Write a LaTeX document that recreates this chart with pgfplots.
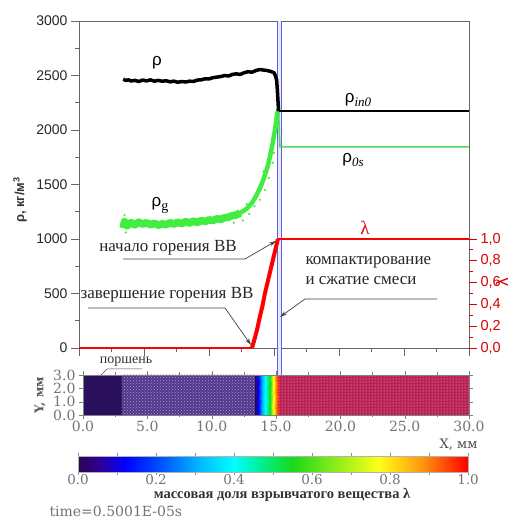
\documentclass[border=0pt]{standalone}
\usepackage{pgfplots}
\pgfplotsset{compat=1.18}
\usepackage{fontspec}
\setmainfont{Liberation Serif}
\newfontfamily\sansf{Liberation Sans}
\newfontfamily\dvs{DejaVu Serif}
\usetikzlibrary{patterns,arrows.meta}
\definecolor{vline}{rgb}{0.38,0.38,0.88}
\definecolor{rhog}{rgb}{0.25,0.93,0.25}
\definecolor{rho0s}{rgb}{0.3,0.85,0.4}
\definecolor{piston}{rgb}{0.16,0.06,0.36}
\definecolor{gran}{rgb}{0.32,0.21,0.54}
\definecolor{granDot}{rgb}{0.66,0.60,0.86}
\definecolor{redreg}{rgb}{0.72,0.13,0.33}
\definecolor{redDot}{rgb}{1,0.78,0.86}
\pgfplotsset{
 colormap={expl}{rgb(0pt)=(0.17,0.02,0.30) rgb(6pt)=(0.18,0.0,0.62) rgb(12pt)=(0,0,1) rgb(22pt)=(0,0.35,1) rgb(31pt)=(0,0.72,1) rgb(40pt)=(0,1,1) rgb(48pt)=(0,0.93,0.5) rgb(55pt)=(0.1,0.85,0.1) rgb(66pt)=(0.55,0.93,0.1) rgb(77pt)=(1,1,0.1) rgb(88pt)=(1,0.6,0.05) rgb(100pt)=(1,0,0)}
}
\begin{document}
\begin{tikzpicture}
% ---------- main axis (rho) ----------
\begin{axis}[at={(79pt,178pt)}, anchor=south west, scale only axis,
  width=390pt, height=327pt,
  xmin=0, xmax=30, ymin=0, ymax=3000,
  xtick={0,5,...,30}, xticklabels={}, minor x tick num=1,
  ytick={0,500,...,3000}, minor y tick num=1,
  tick pos=left, tick align=outside,
  major tick length=8pt, minor tick length=4pt,
  axis line style={black!60, line width=0.8pt},
  tick style={black!60, line width=0.8pt},
  yticklabel style={font=\sansf\fontsize{14}{14}\selectfont, color=black!85},
  /pgf/number format/assume math mode=true,
  /pgf/number format/1000 sep={},
  clip=false]
% vertical double line
\addplot[draw=none, fill=vline!15] coordinates {(15.25,-250)(15.25,3000)(15.6,3000)(15.6,-250)} -- cycle;
\addplot[vline, line width=1pt] coordinates {(15.25,-250)(15.25,3000)};
\addplot[vline, line width=1pt] coordinates {(15.6,-250)(15.6,3000)};
% rho_g (green)
\addplot[rhog, line width=7.5pt, line join=round] coordinates {
(3.4,1100)(3.5,1160)(3.7,1120)(4.0,1150)(4.3,1130)(4.6,1155)(4.9,1135)(5.2,1150)
(5.5,1130)(5.8,1145)(6.1,1125)(6.4,1140)(6.7,1130)(7.0,1150)(7.3,1135)(7.6,1155)
(7.9,1140)(8.2,1160)(8.5,1145)(8.8,1165)(9.1,1150)(9.4,1170)(9.7,1160)(10.0,1175)
(10.3,1170)(10.6,1185)(10.9,1180)(11.2,1195)(11.5,1200)(11.8,1215)(12.1,1220)(12.4,1240)};
\addplot[rhog, line width=4.5pt, line join=round] coordinates {
(12.4,1240)(12.7,1260)(13.0,1290)(13.3,1330)(13.6,1390)(13.9,1460)(14.2,1550)(14.5,1660)
(14.7,1760)(14.9,1880)(15.1,2020)(15.25,2150)(15.35,2190)};
\addplot[rhog, only marks, mark=*, mark size=0.9pt] coordinates {
(12.6,1170)(13.1,1230)(13.5,1300)(13.9,1360)(14.3,1450)(14.6,1560)(14.9,1700)(15.0,1790)
(13.8,1420)(14.2,1620)(12.9,1320)(11.9,1150)(3.6,1060)(3.5,1220)};
\addplot[rho0s, line width=1.6pt] coordinates {(15.35,2180)(15.45,1845)(30,1845)};
% rho (black)
\addplot[black, line width=3.5pt, line join=round] coordinates {
(3.4,2465)(3.6,2455)(3.8,2460)(4.0,2450)(4.3,2455)(4.6,2445)(4.9,2458)(5.2,2450)
(5.5,2460)(5.8,2448)(6.1,2455)(6.4,2447)(6.7,2452)(7.0,2442)(7.3,2448)(7.6,2438)
(7.9,2445)(8.2,2440)(8.5,2448)(8.8,2445)(9.1,2458)(9.4,2460)(9.7,2470)(10.0,2468)
(10.3,2480)(10.6,2485)(10.9,2490)(11.2,2500)(11.5,2495)(11.8,2510)(12.1,2515)(12.4,2510)
(12.7,2525)(13.0,2535)(13.3,2530)(13.6,2545)(13.9,2555)(14.2,2550)(14.5,2545)(14.8,2535)
(15.0,2525)(15.1,2500)(15.2,2460)(15.25,2380)(15.3,2280)(15.35,2172)};
\addplot[black, line width=1.6pt] coordinates {(15.35,2172)(30,2172)};
\end{axis}
% ---------- right axis (lambda) ----------
\begin{axis}[at={(79pt,178pt)}, anchor=south west, scale only axis,
  width=390pt, height=327pt,
  xmin=0, xmax=30, ymin=0, ymax=3,
  axis x line=none, axis y line*=right,
  y axis line style={draw=none},
  ytick={0,0.2,0.4,0.6,0.8,1},
  yticklabel={\pgfmathprintnumber[fixed,fixed zerofill,precision=1,use comma]{\tick}},
  minor y tick num=1,
  tick align=outside, major tick length=8pt, minor tick length=4pt,
  tick style={red!85!black, line width=0.8pt},
  yticklabel style={font=\sansf\fontsize{14.5}{14.5}\selectfont, color=red!85!black},
  /pgf/number format/assume math mode=true,
  clip=false]
\addplot[red, line width=1.6pt] coordinates {(0,0)(13.3,0)};
\addplot[red, line width=4pt, line join=round] coordinates {
(13.3,0)(13.5,0.08)(13.7,0.17)(13.9,0.28)(14.1,0.38)(14.3,0.5)(14.5,0.6)(14.7,0.7)
(14.9,0.8)(15.1,0.9)(15.3,1.0)};
\addplot[red, line width=1.6pt] coordinates {(15.3,1.0)(30,1.0)};
\end{axis}
% ---------- strip ----------
\begin{axis}[at={(83pt,111pt)}, anchor=south west, scale only axis,
  width=386pt, height=40pt,
  xmin=0, xmax=30, ymin=0, ymax=3,
  xtick={0,5,...,30}, minor x tick num=1, ytick={0,1,2,3},
  tick align=outside, major tick length=4pt, minor tick length=2.5pt,
  xticklabel={\pgfmathprintnumber[fixed,fixed zerofill,precision=1]{\tick}},
  yticklabel={\pgfmathprintnumber[fixed,fixed zerofill,precision=1]{\tick}},
  ticklabel style={font=\dvs\fontsize{14}{14}\selectfont, color=black!55},
  xticklabel style={yshift=1pt},
  /pgf/number format/assume math mode=true,
  axis line style={black!50}, tick style={black!50},
  colormap name=expl, point meta min=0, point meta max=1,
  axis on top]
\addplot[fill=piston, draw=none] coordinates {(0,3)(3.0,3)} \closedcycle;
\addplot[fill=gran, draw=none] coordinates {(3.0,3)(13.45,3)} \closedcycle;
\addplot[pattern=crosshatch dots, pattern color=granDot, draw=none] coordinates {(3.0,3)(13.45,3)} \closedcycle;
\addplot[surf, shader=interp, point meta=\thisrow{c}] table {
x y c
13.4 0 0
13.6 0 0.12
13.9 0 0.3
14.2 0 0.42
14.5 0 0.55
14.8 0 0.75
15.0 0 0.9
15.2 0 1

13.4 3 0
13.6 3 0.12
13.9 3 0.3
14.2 3 0.42
14.5 3 0.55
14.8 3 0.75
15.0 3 0.9
15.2 3 1
};
\addplot[fill=redreg, draw=none] coordinates {(15.2,3)(30,3)} \closedcycle;
\addplot[pattern=dots, pattern color=redDot, draw=none] coordinates {(15.2,3)(30,3)} \closedcycle;
\end{axis}
% ---------- colorbar ----------
\begin{axis}[at={(78pt,54pt)}, anchor=south west, scale only axis,
  width=390pt, height=16pt,
  xmin=0, xmax=1, ymin=0, ymax=1,
  ytick=\empty, xtick={0,0.2,0.4,0.6,0.8,1}, minor x tick num=1,
  tick align=outside, major tick length=3pt, minor tick length=3pt,
  xtick pos=both,
  xticklabel={\pgfmathprintnumber[fixed,fixed zerofill,precision=1]{\tick}},
  ticklabel style={font=\dvs\fontsize{13.5}{13.5}\selectfont, color=black!55},
  xticklabel style={yshift=4.5pt},
  /pgf/number format/assume math mode=true,
  axis line style={black!30}, tick style={black!45},
  colormap name=expl, point meta min=0, point meta max=1,
  axis on top]
\addplot[surf, shader=interp, point meta=\thisrow{c}] table {
x y c
0 0 0
0.1 0 0.1
0.2 0 0.2
0.3 0 0.3
0.4 0 0.4
0.5 0 0.5
0.6 0 0.6
0.7 0 0.7
0.8 0 0.8
0.9 0 0.9
1 0 1

0 1 0
0.1 1 0.1
0.2 1 0.2
0.3 1 0.3
0.4 1 0.4
0.5 1 0.5
0.6 1 0.6
0.7 1 0.7
0.8 1 0.8
0.9 1 0.9
1 1 1
};
\end{axis}
% ---------- texts ----------
\begin{scope}[x=1pt,y=1pt]
\node[rotate=90, font=\sansf\bfseries\fontsize{13}{13}\selectfont, text=black!80] at (20,326) {ρ, кг/м\textsuperscript{3}};
\node[rotate=90, font=\sansf\fontsize{17}{17}\selectfont, text=red!85!black] at (502,244) {λ};
\node[font=\sansf\fontsize{17}{17}\selectfont] at (157,463) {ρ};
\node[font=\fontsize{17}{17}\selectfont] at (160,321) {{\sansf ρ}\raisebox{-4pt}{\fontsize{14}{14}\selectfont g}};
\node[font=\fontsize{17}{17}\selectfont] at (358,426) {{\sansf ρ}\raisebox{-4pt}{\fontsize{13}{13}\selectfont\itshape in0}};
\node[font=\fontsize{17}{17}\selectfont] at (353,366) {{\sansf ρ}\raisebox{-4pt}{\fontsize{13}{13}\selectfont\itshape 0s}};
\node[font=\fontsize{19}{19}\selectfont, text=red!90!black] at (365,298) {λ};
\node[font=\fontsize{17}{17}\selectfont, text=black!85] at (168,278) {начало горения ВВ};
\draw[black!75, line width=0.7pt, -{Stealth[length=7pt,width=4pt]}] (123,267) -- (245,267) -- (276,285);
\node[font=\fontsize{17}{17}\selectfont, text=black!85] at (167,231) {завершение горения ВВ};
\draw[black!75, line width=0.7pt, -{Stealth[length=7pt,width=4pt]}] (88,218) -- (225,218) -- (251,181);
\node[font=\fontsize{17}{20}\selectfont, text=black!85, align=left, anchor=west] at (302,255) {компактирование\\и сжатие смеси};
\draw[black!75, line width=0.7pt, -{Stealth[length=7pt,width=4pt]}] (437,227) -- (305,227) -- (280,209);
\node[font=\fontsize{14}{14}\selectfont, text=black!80] at (126,164) {поршень};
\draw[black!70, line width=0.5pt] (101,151) -- (107,157) -- (142,157);
\node[rotate=90, font=\dvs\bfseries\fontsize{12}{12}\selectfont, text=black!65] at (40,131) {Y, мм};
\node[font=\dvs\fontsize{13}{13}\selectfont, text=black!70, anchor=east] at (481,81) {X, мм};
\node[font=\bfseries\fontsize{14.5}{14.5}\selectfont, text=black!80] at (282,31) {массовая доля взрывчатого вещества λ};
\node[font=\dvs\fontsize{14}{14}\selectfont, text=black!55, anchor=west] at (46,15) {time=0.5001E-05s};
\pgfresetboundingbox
\useasboundingbox (0,0) rectangle (512,526);
\end{scope}
\end{tikzpicture}
\end{document}
